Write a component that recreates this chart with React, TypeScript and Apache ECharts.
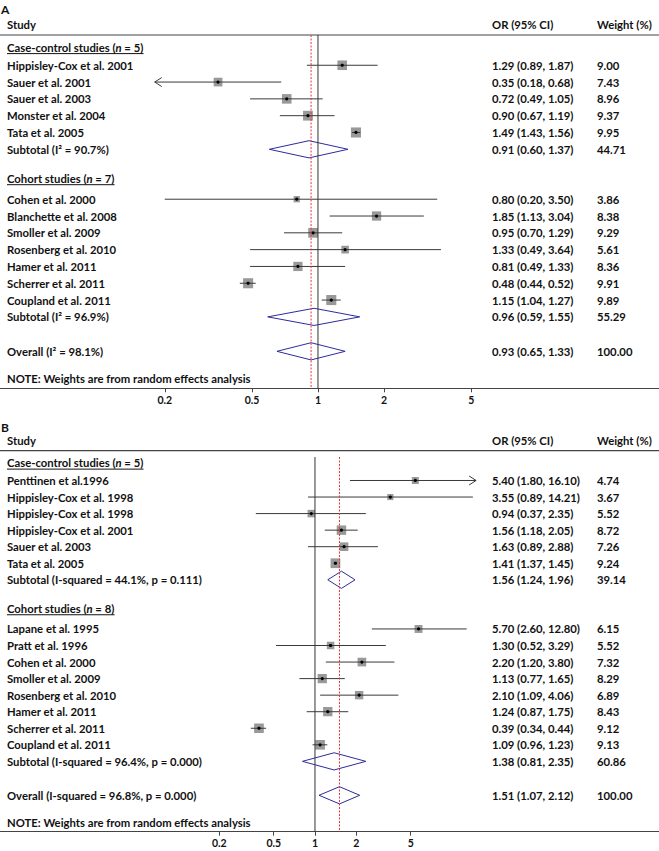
import React, { useEffect, useRef } from "react";
import * as echarts from "echarts";

// ---------- Panel A data ----------
const aCaseN = 5;
const aCaseNames = ["Hippisley-Cox et al. 2001", "Sauer et al. 2001", "Sauer et al. 2003", "Monster et al. 2004", "Tata et al. 2005"];
const aCaseOR = [1.29, 0.35, 0.72, 0.9, 1.49];
const aCaseLo = [0.89, 0.18, 0.49, 0.67, 1.43];
const aCaseHi = [1.87, 0.68, 1.05, 1.19, 1.56];
const aCaseW = [9.0, 7.43, 8.96, 9.37, 9.95];
const aCaseSub = [0.91, 0.6, 1.37, 44.71];
const aCaseHet = "I² = 90.7%";

const aCohN = 7;
const aCohNames = ["Cohen et al. 2000", "Blanchette et al. 2008", "Smoller et al. 2009", "Rosenberg et al. 2010", "Hamer et al. 2011", "Scherrer et al. 2011", "Coupland et al. 2011"];
const aCohOR = [0.8, 1.85, 0.95, 1.33, 0.81, 0.48, 1.15];
const aCohLo = [0.2, 1.13, 0.7, 0.49, 0.49, 0.44, 1.04];
const aCohHi = [3.5, 3.04, 1.29, 3.64, 1.33, 0.52, 1.27];
const aCohW = [3.86, 8.38, 9.29, 5.61, 8.36, 9.91, 9.89];
const aCohSub = [0.96, 0.59, 1.55, 55.29];
const aCohHet = "I² = 96.9%";

const aOverall = [0.93, 0.65, 1.33, 100.0];
const aOverallHet = "I² = 98.1%";

// ---------- Panel B data ----------
const bCaseN = 5;
const bCaseNames = ["Penttinen et al.1996", "Hippisley-Cox et al. 1998", "Hippisley-Cox et al. 1998", "Hippisley-Cox et al. 2001", "Sauer et al. 2003", "Tata et al. 2005"];
const bCaseOR = [5.4, 3.55, 0.94, 1.56, 1.63, 1.41];
const bCaseLo = [1.8, 0.89, 0.37, 1.18, 0.89, 1.37];
const bCaseHi = [16.1, 14.21, 2.35, 2.05, 2.88, 1.45];
const bCaseW = [4.74, 3.67, 5.52, 8.72, 7.26, 9.24];
const bCaseSub = [1.56, 1.24, 1.96, 39.14];
const bCaseHet = "I-squared = 44.1%, p = 0.111";

const bCohN = 8;
const bCohNames = ["Lapane et al. 1995", "Pratt et al. 1996", "Cohen et al. 2000", "Smoller et al. 2009", "Rosenberg et al. 2010", "Hamer et al. 2011", "Scherrer et al. 2011", "Coupland et al. 2011"];
const bCohOR = [5.7, 1.3, 2.2, 1.13, 2.1, 1.24, 0.39, 1.09];
const bCohLo = [2.6, 0.52, 1.2, 0.77, 1.09, 0.87, 0.34, 0.96];
const bCohHi = [12.8, 3.29, 3.8, 1.65, 4.06, 1.75, 0.44, 1.23];
const bCohW = [6.15, 5.52, 7.32, 8.29, 6.89, 8.43, 9.12, 9.13];
const bCohSub = [1.38, 0.81, 2.35, 60.86];
const bCohHet = "I-squared = 96.4%, p = 0.000";

const bOverall = [1.51, 1.07, 2.12, 100.0];
const bOverallHet = "I-squared = 96.8%, p = 0.000";

const tickValues = [0.2, 0.5, 1, 2, 5];
const noteText = "NOTE: Weights are from random effects analysis";

// ---------- layout / style ----------
const FONT = "Lato";
const FS = 11.3;
const TXT = "#111";
const COL_OR = 492;
const COL_W = 597;
const LAYOUT = { groupHead: 0.72, firstGap: 1.08, nextGroup: 1.72, secondGap: 1.25, toOverall: 2.05, toNote: 1.62, toAxis: 0.58 };

type Group = { title: string; n: number; names: string[]; or: number[]; lo: number[]; hi: number[]; w: number[]; sub: number[]; het: string };
type Panel = { letter: string; top: number; height: number; lineTop: number; xMin: number; xMax: number; clipMin: number; clipMax: number; letterTop: number; groups: Group[]; overall: number[]; overallHet: string };

const panels: Panel[] = [
  {
    letter: "A", top: 35, height: 353.3, lineTop: 0, xMin: -3.34, xMax: 3.582, clipMin: 0.18, clipMax: 30, letterTop: 3,
    groups: [
      { title: "Case-control studies", n: aCaseN, names: aCaseNames, or: aCaseOR, lo: aCaseLo, hi: aCaseHi, w: aCaseW, sub: aCaseSub, het: aCaseHet },
      { title: "Cohort studies", n: aCohN, names: aCohNames, or: aCohOR, lo: aCohLo, hi: aCohHi, w: aCohW, sub: aCohSub, het: aCohHet },
    ],
    overall: aOverall, overallHet: aOverallHet,
  },
  {
    letter: "B", top: 450.7, height: 381, lineTop: 0.38, xMin: -5.294, xMax: 5.782, clipMin: 0.05, clipMax: 15, letterTop: 421,
    groups: [
      { title: "Case-control studies", n: bCaseN, names: bCaseNames, or: bCaseOR, lo: bCaseLo, hi: bCaseHi, w: bCaseW, sub: bCaseSub, het: bCaseHet },
      { title: "Cohort studies", n: bCohN, names: bCohNames, or: bCohOR, lo: bCohLo, hi: bCohHi, w: bCohW, sub: bCohSub, het: bCohHet },
    ],
    overall: bOverall, overallHet: bOverallHet,
  },
];

type Row = { kind: string; y: number; label?: string; n?: number; or?: number; lo?: number; hi?: number; w?: number; y2?: number };

function buildRows(p: Panel): { rows: Row[]; yMax: number } {
  const rows: Row[] = [{ kind: "head", y: 0 }];
  let y = LAYOUT.groupHead;
  p.groups.forEach((g, gi) => {
    if (gi > 0) y += LAYOUT.nextGroup;
    rows.push({ kind: "group", y, label: g.title, n: g.n });
    y += gi === 0 ? LAYOUT.firstGap : LAYOUT.secondGap;
    g.names.forEach((nm, i) => {
      rows.push({ kind: "study", y, label: nm, or: g.or[i], lo: g.lo[i], hi: g.hi[i], w: g.w[i] });
      y += 1;
    });
    rows.push({ kind: "sub", y, label: `Subtotal (${g.het})`, or: g.sub[0], lo: g.sub[1], hi: g.sub[2], w: g.sub[3] });
  });
  y += LAYOUT.toOverall;
  rows.push({ kind: "sub", y, label: `Overall (${p.overallHet})`, or: p.overall[0], lo: p.overall[1], hi: p.overall[2], w: p.overall[3] });
  y += LAYOUT.toNote;
  rows.push({ kind: "note", y, label: noteText });
  const yMax = y + LAYOUT.toAxis;
  // reference lines: null (OR = 1) and pooled overall estimate
  rows.push({ kind: "vnull", y: p.lineTop, y2: yMax, or: 1 });
  rows.push({ kind: "vest", y: p.lineTop, y2: yMax, or: p.overall[0] });
  return { rows, yMax };
}

let measureCtx: CanvasRenderingContext2D | null = null;
function measure(text: string): number {
  if (!measureCtx) measureCtx = document.createElement("canvas").getContext("2d");
  if (!measureCtx) return text.length * 6;
  measureCtx.font = `bold ${FS}px ${FONT}`;
  return measureCtx.measureText(text).width;
}

const fmt = (v: number) => v.toFixed(2);

function textEl(text: string, x: number, y: number, extra: any = {}) {
  return {
    type: "text",
    style: {
      text, x, y, fill: TXT, fontFamily: FONT, fontSize: FS, fontWeight: "bold",
      textAlign: "left", textVerticalAlign: "middle", align: "left", verticalAlign: "middle", ...extra,
    },
  };
}

function makeRender(p: Panel, rows: Row[]) {
  return (params: any, api: any) => {
    const r = rows[params.dataIndex];
    const cs = params.coordSys;
    const cy = api.coord([0, r.y])[1];
    const px = (v: number) => api.coord([Math.log(v), r.y])[0];
    const ch: any[] = [];
    if (r.kind === "head") {
      ch.push(textEl("Study", 7, cy - 10.5));
      ch.push(textEl("OR (95% CI)", COL_OR, cy - 10.5));
      ch.push(textEl("Weight (%)", COL_W, cy - 10.5));
      ch.push({ type: "line", shape: { x1: cs.x, y1: cy, x2: cs.x + cs.width, y2: cy }, style: { stroke: "#444", lineWidth: 1.2 } });
    } else if (r.kind === "vnull" || r.kind === "vest") {
      const x = px(r.or!);
      const yb = api.coord([0, r.y2!])[1];
      const style = r.kind === "vnull"
        ? { stroke: "#333", lineWidth: 1 }
        : { stroke: "#ee3333", lineWidth: 1, lineDash: [2, 1.5] };
      ch.push({ type: "line", shape: { x1: x, y1: cy, x2: x, y2: yb }, style });
    } else if (r.kind === "group") {
      ch.push({
        type: "text",
        style: {
          text: `${r.label} ({it|n} = ${r.n})`, x: 7, y: cy, fill: TXT, fontFamily: FONT, fontSize: FS, fontWeight: "bold",
          textAlign: "left", textVerticalAlign: "middle", align: "left", verticalAlign: "middle",
          rich: { it: { fontStyle: "italic", fontFamily: FONT, fontSize: FS, fontWeight: "bold", fill: TXT } },
        },
      });
      const w = measure(`${r.label} (n = ${r.n})`);
      ch.push({ type: "line", shape: { x1: 7, y1: cy + 6.5, x2: 7 + w, y2: cy + 6.5 }, style: { stroke: TXT, lineWidth: 1 } });
    } else if (r.kind === "study") {
      const lo = Math.max(r.lo!, p.clipMin);
      const hi = Math.min(r.hi!, p.clipMax);
      const xl = px(lo), xh = px(hi), xc = px(r.or!);
      const s = 3.2 * Math.sqrt(r.w!);
      ch.push({ type: "rect", shape: { x: xc - s / 2, y: cy - s / 2, width: s, height: s }, style: { fill: "#999" } });
      ch.push({ type: "line", shape: { x1: xl, y1: cy, x2: xh, y2: cy }, style: { stroke: "#3a3a3a", lineWidth: 1 } });
      if (r.lo! <= p.clipMin) {
        ch.push({ type: "polyline", shape: { points: [[xl + 7, cy - 4.5], [xl, cy], [xl + 7, cy + 4.5]] }, style: { stroke: "#3a3a3a", fill: "none", lineWidth: 1 } });
      }
      if (r.hi! >= p.clipMax) {
        ch.push({ type: "polyline", shape: { points: [[xh - 7, cy - 4.5], [xh, cy], [xh - 7, cy + 4.5]] }, style: { stroke: "#3a3a3a", fill: "none", lineWidth: 1 } });
      }
      ch.push({ type: "circle", shape: { cx: xc, cy, r: 1.6 }, style: { fill: "#000" } });
      ch.push(textEl(r.label!, 7, cy));
      ch.push(textEl(`${fmt(r.or!)} (${fmt(r.lo!)}, ${fmt(r.hi!)})`, COL_OR, cy));
      ch.push(textEl(fmt(r.w!), COL_W, cy));
    } else if (r.kind === "sub") {
      const xl = px(r.lo!), xh = px(r.hi!), xc = px(r.or!);
      ch.push({ type: "polygon", shape: { points: [[xl, cy], [xc, cy - 8.6], [xh, cy], [xc, cy + 8.6]] }, style: { fill: "none", stroke: "#2c2c9c", lineWidth: 1 } });
      ch.push(textEl(r.label!, 7, cy));
      ch.push(textEl(`${fmt(r.or!)} (${fmt(r.lo!)}, ${fmt(r.hi!)})`, COL_OR, cy));
      ch.push(textEl(fmt(r.w!), COL_W, cy));
    } else if (r.kind === "note") {
      ch.push(textEl(r.label!, 7, cy));
    }
    return { type: "group", children: ch };
  };
}

function buildOption() {
  const grids: any[] = [];
  const xAxes: any[] = [];
  const yAxes: any[] = [];
  const series: any[] = [];
  const titles: any[] = [];
  const lnTicks = tickValues.map((t) => Math.log(t));
  panels.forEach((p, pi) => {
    const { rows, yMax } = buildRows(p);
    grids.push({ left: 0, width: 659, top: p.top, height: p.height, containLabel: false });
    xAxes.push({
      type: "value", gridIndex: pi, min: p.xMin, max: p.xMax, position: "bottom",
      axisLine: { show: true, onZero: false, lineStyle: { color: "#444", width: 1.2 } },
      axisTick: { show: true, customValues: lnTicks, length: 4, lineStyle: { color: "#444" } },
      axisLabel: {
        show: true, customValues: lnTicks, margin: 6, color: TXT, fontFamily: FONT, fontSize: 10.5, fontWeight: "bold",
        formatter: (v: number) => {
          const t = tickValues.find((tv) => Math.abs(Math.log(tv) - v) < 1e-6);
          return t === undefined ? "" : String(t);
        },
      },
      splitLine: { show: false },
    });
    yAxes.push({ type: "value", gridIndex: pi, min: 0, max: yMax, inverse: true, show: false });
    series.push({
      type: "custom", xAxisIndex: pi, yAxisIndex: pi, clip: false, silent: true,
      data: rows.map((r, i) => [i, r.y]),
      encode: { x: -1, y: 1 },
      renderItem: makeRender(p, rows),
    });
    titles.push({ text: p.letter, left: 1, top: p.letterTop, padding: 0, textStyle: { fontSize: 12, fontWeight: "bold", fontFamily: FONT, color: TXT } });
  });
  return { animation: false, backgroundColor: "#fff", title: titles, grid: grids, xAxis: xAxes, yAxis: yAxes, series };
}

export default function App() {
  const ref = useRef<HTMLDivElement>(null);
  useEffect(() => {
    if (!ref.current) return;
    const chart = echarts.init(ref.current, null, { renderer: "svg" });
    chart.setOption(buildOption() as any);
    return () => chart.dispose();
  }, []);
  return <div ref={ref} style={{ position: "fixed", left: 0, top: 0, width: 659, height: 851, background: "#fff" }} />;
}
